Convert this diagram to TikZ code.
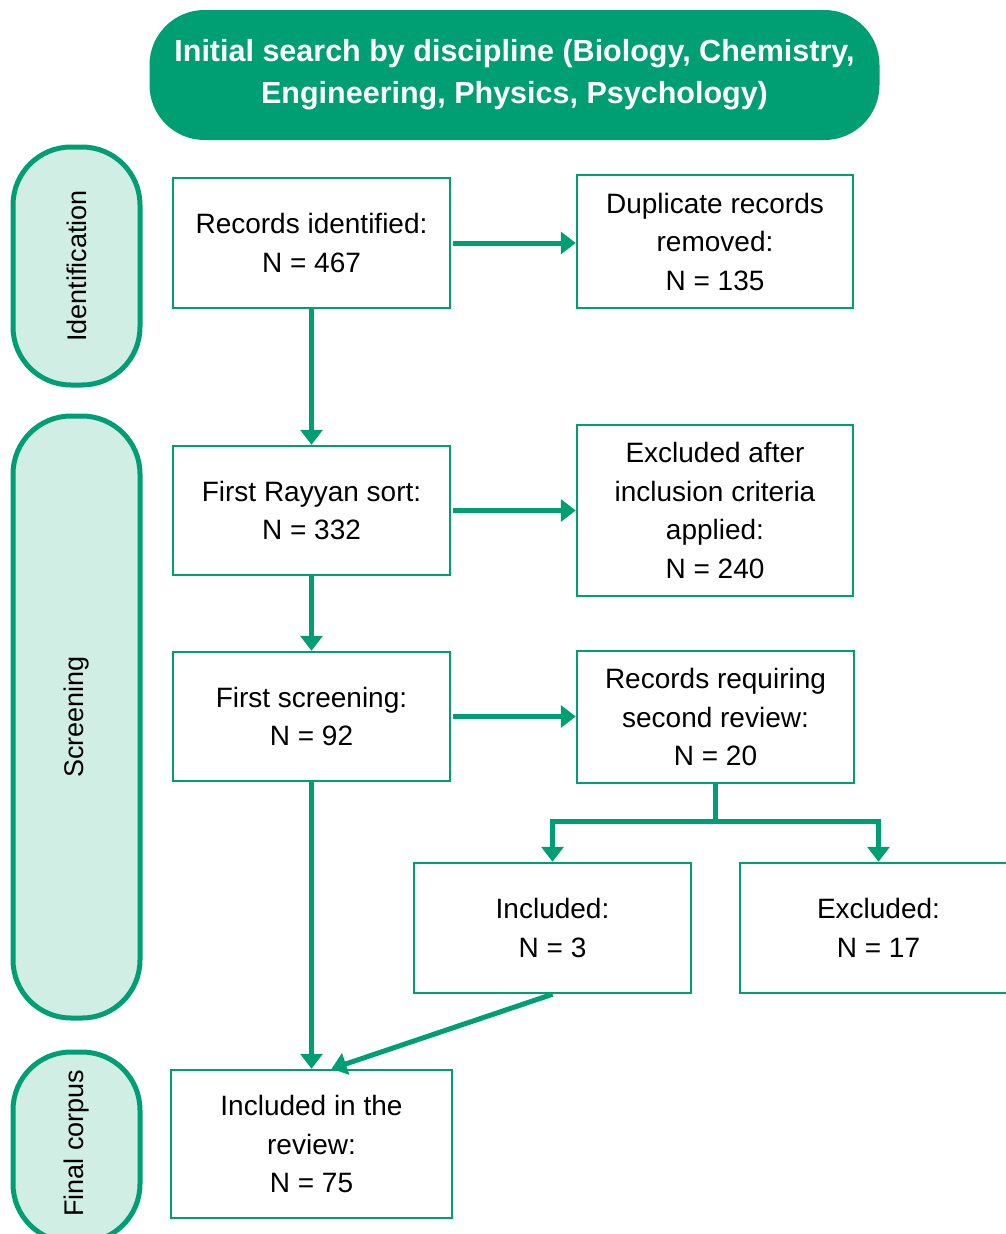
\documentclass[tikz,border=0pt]{standalone}
\usepackage{fontspec}
\setmainfont{Liberation Sans}
\usetikzlibrary{arrows.meta}
\definecolor{pgreen}{RGB}{0,158,115}
\definecolor{plight}{RGB}{209,238,229}
\tikzset{
  box/.style={draw=pgreen, line width=2.5pt, fill=white, align=center, inner sep=0pt,
    font=\fontsize{28}{38.5}\selectfont},
  pill/.style={draw=pgreen, line width=5pt, fill=plight, rounded corners=58pt, minimum width=127pt},
  plabel/.style={rotate=90, font=\fontsize{27}{32}\selectfont},
  flow/.style={draw=pgreen, line width=5pt, -{Triangle[width=22pt,length=15pt]}},
  link/.style={draw=pgreen, line width=5pt},
}
\begin{document}
\begin{tikzpicture}[x=1pt,y=-1pt]
\useasboundingbox (0,0) rectangle (1006,1234);
\clip (0,0) rectangle (1006,1234);
% title
\node[fill=pgreen, rounded corners=55pt, minimum width=730pt, minimum height=130pt, inner sep=0pt,
  text=white, align=center, font=\bfseries\fontsize{30.5}{42}\selectfont] (title) at (514.5,75)
  {Initial search by discipline (Biology, Chemistry,\\Engineering, Physics, Psychology)};
% phase pills
\node[pill, minimum height=238pt] (pid) at (76.5,266) {};
\node[plabel] (lid) at (pid.center) {Identification};
\node[pill, minimum height=602pt] (psc) at (76.5,717) {};
\node[plabel] (lsc) at (psc.center) {Screening};
\node[pill, minimum height=190pt] (pfc) at (76.5,1147) {};
\node[plabel] (lfc) at (76.5,1143) {Final corpus};
% boxes
\node[box, minimum width=277pt, minimum height=130pt] (rec) at (311.5,243) {Records identified:\\N = 467};
\node[box, minimum width=276pt, minimum height=133pt] (dup) at (715,241.5) {Duplicate records\\removed:\\N = 135};
\node[box, minimum width=277pt, minimum height=129pt] (ray) at (311.5,510.5) {First Rayyan sort:\\N = 332};
\node[box, minimum width=276pt, minimum height=171pt] (exa) at (715,510.5) {Excluded after\\inclusion criteria\\applied:\\N = 240};
\node[box, minimum width=277pt, minimum height=129pt] (fs) at (311.5,716.5) {First screening:\\N = 92};
\node[box, minimum width=277pt, minimum height=132pt] (req) at (715.5,717) {Records requiring\\second review:\\N = 20};
\node[box, minimum width=277pt, minimum height=130pt] (inc) at (552.5,928) {Included:\\N = 3};
\node[box, minimum width=277pt, minimum height=130pt] (exc) at (878.5,928) {Excluded:\\N = 17};
\node[box, minimum width=281pt, minimum height=148pt] (fin) at (311.5,1144) {Included in the\\review:\\N = 75};
% connectors
\draw[flow, shorten <=2pt] (rec.east) -- (rec.east -| dup.west);
\draw[flow] (rec.south) -- (ray.north);
\draw[flow, shorten <=2pt] (ray.east) -- (ray.east -| exa.west);
\draw[flow] (ray.south) -- (fs.north);
\draw[flow, shorten <=2pt] (fs.east) -- (fs.east -| req.west);
\coordinate (split) at ([yshift=-37pt]req.south);
\draw[link] (req.south) -- (split);
\draw[flow] (split) -| (inc.north);
\draw[flow] (split) -| (exc.north);
\draw[flow] (fs.south) -- (fin.north);
\draw[flow] (inc.south) -- ([xshift=20pt]fin.north);
\end{tikzpicture}
\end{document}
